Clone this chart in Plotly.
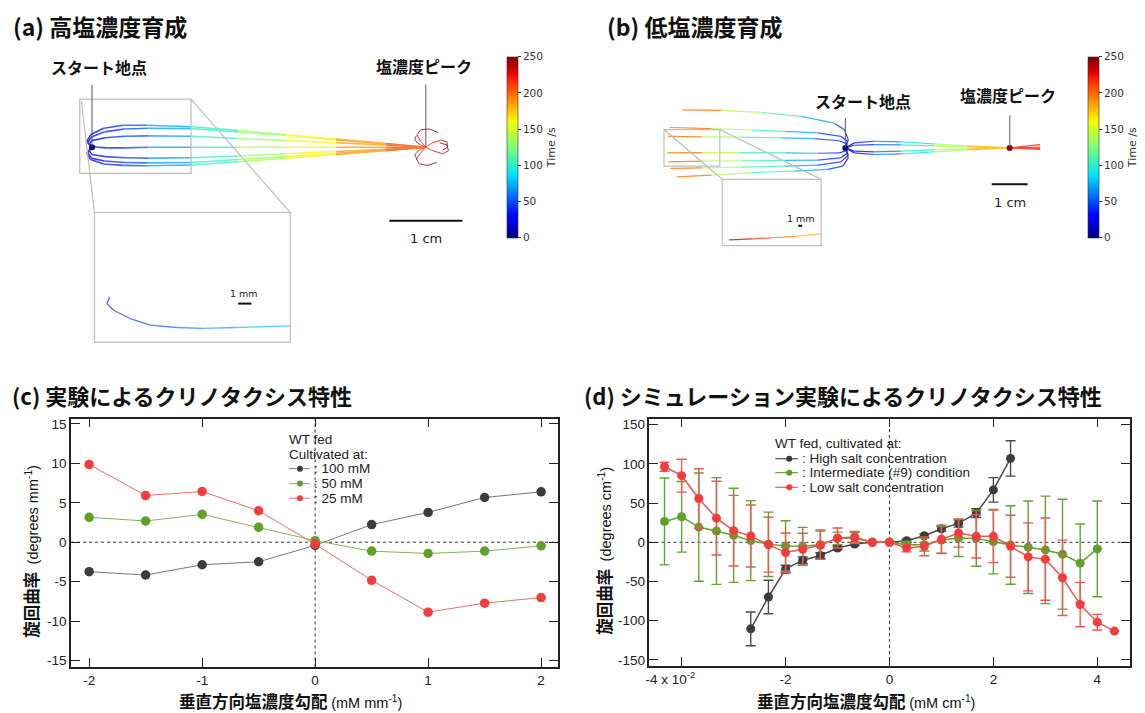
import plotly.graph_objects as go
from plotly.colors import sample_colorscale, unlabel_rgb

W, H = 1145, 713

# ---------------- panel (c): experiment ----------------
grad_c = [-2.0, -1.5, -1.0, -0.5, 0.0, 0.5, 1.0, 1.5, 2.0]
curv_c_100mM = [-3.74, -4.16, -2.86, -2.48, -0.40, 2.23, 3.78, 5.67, 6.39]
curv_c_50mM = [3.15, 2.69, 3.53, 1.89, 0.20, -1.13, -1.43, -1.13, -0.46]
curv_c_25mM = [9.87, 5.92, 6.43, 3.99, -0.25, -4.83, -8.87, -7.73, -7.02]
names_c = [": 100 mM", ": 50 mM", ": 25 mM"]
yticks_c = [-15, -10, -5, 0, 5, 10, 15]
yticktext_c = ["-15", "-10", "-5", "0", "5", "10", "15"]
xticks_c = [-2, -1, 0, 1, 2]
xticktext_c = ["-2", "-1", "0", "1", "2"]

# ---------------- panel (d): simulation (x in units of 10^-2 mM/cm) ----------------
grad_d = [-4.33, -4.0, -3.67, -3.33, -3.0, -2.67, -2.33, -2.0, -1.67, -1.33, -1.0, -0.67, -0.33,
          0.0, 0.33, 0.67, 1.0, 1.33, 1.67, 2.0, 2.33, 2.67, 3.0, 3.33, 3.67, 4.0, 4.33]
curv_d_high = [None, None, None, None, None, -110.3, -69.7, -34.2, -22.8, -16.9, -7.2, -2.1, 0.0,
               0.0, 2.1, 8.4, 17.3, 24.1, 37.2, 66.8, 106.9, None, None, None, None, None, None]
err_d_high = [None, None, None, None, None, 21.5, 21.3, 5.0, 4.0, 3.5, 2.5, 2.0, 0.0,
              0.0, 2.0, 2.0, 3.0, 4.7, 5.5, 15.6, 22.6, None, None, None, None, None, None]
curv_d_mid = [26.6, 32.5, 19.4, 14.4, 8.9, 2.1, -2.5, -4.6, -5.0, -3.0, 5.0, 5.5, 0.0,
              0.0, -3.0, -3.0, 3.0, 5.5, 5.0, 0.8, -3.4, -6.3, -9.7, -15.2, -26.6, -8.4, None]
err_d_mid = [55.4, 45.0, 69.0, 68.0, 60.0, 51.0, 41.0, 32.0, 24.0, 18.6, 8.0, 7.0, 0.0,
             0.0, 4.0, 8.0, 17.0, 23.5, 35.5, 41.0, 50.0, 59.0, 68.5, 70.0, 50.0, 61.0, None]
curv_d_low = [96.3, 84.9, 55.8, 30.8, 14.8, 8.0, -3.0, -13.1, -8.9, -3.8, 5.5, 6.8, 0.0,
              0.0, -7.2, -5.1, 3.8, 11.8, 7.6, 7.6, -5.1, -18.6, -21.5, -45.2, -79.4, -101.8, -113.2]
err_d_low = [5.7, 21.0, 38.0, 47.0, 45.0, 39.5, 35.0, 25.0, 20.5, 18.0, 12.7, 7.0, 0.0,
             0.0, 5.0, 12.0, 18.0, 18.0, 27.6, 33.5, 39.5, 43.3, 52.4, 48.0, 28.3, 10.0, 0.0]
names_d = [": High salt concentration", ": Intermediate (#9) condition", ": Low salt concentration"]
yticks_d = [-150, -100, -50, 0, 50, 100, 150]
yticktext_d = ["-150", "-100", "-50", "0", "50", "100", "150"]
xticks_d = [-4, -2, 0, 2, 4]
xticktext_d = ["-4 x 10<sup>-2</sup>&nbsp;&nbsp;&nbsp;&nbsp;&nbsp;&nbsp;", "-2", "0", "2", "4"]

# ---------------- panel (a): trajectories, high-salt cultivation (cm) ----------------
traj_a_x = [
    [0, -0.07, -0.02, 0.16, 0.43, 0.75, 1.36, 2.0, 2.66, 3.34, 4.02, 4.57],
    [0, -0.06, -0.01, 0.17, 0.44, 0.76, 1.36, 2.0, 2.66, 3.34, 4.02, 4.57],
    [0, -0.04, 0.0, 0.18, 0.45, 0.77, 1.36, 2.0, 2.66, 3.34, 4.02, 4.57],
    [0, 0.03, 0.08, 0.2, 0.45, 0.77, 1.36, 2.0, 2.66, 3.34, 4.02, 4.57],
    [0, -0.04, 0.0, 0.18, 0.45, 0.77, 1.36, 2.0, 2.66, 3.34, 4.02, 4.57],
    [0, -0.06, -0.01, 0.17, 0.44, 0.76, 1.36, 2.0, 2.66, 3.34, 4.02, 4.57],
    [0, -0.07, -0.02, 0.16, 0.43, 0.75, 1.36, 2.0, 2.66, 3.34, 4.02, 4.57],
]
traj_a_y = [
    [0, 0.08, 0.17, 0.26, 0.30, 0.30, 0.28, 0.23, 0.17, 0.11, 0.05, 0],
    [0, 0.06, 0.14, 0.21, 0.25, 0.26, 0.255, 0.21, 0.16, 0.10, 0.045, 0],
    [0, 0.04, 0.09, 0.13, 0.15, 0.155, 0.15, 0.12, 0.09, 0.06, 0.03, 0],
    [0, 0.01, 0.0, -0.01, -0.01, 0.0, 0.0, 0.0, 0.0, 0.0, 0.0, 0],
    [0, -0.05, -0.10, -0.13, -0.145, -0.15, -0.145, -0.12, -0.09, -0.06, -0.03, 0],
    [0, -0.07, -0.15, -0.19, -0.21, -0.215, -0.21, -0.17, -0.13, -0.085, -0.04, 0],
    [0, -0.08, -0.17, -0.23, -0.25, -0.255, -0.245, -0.2, -0.15, -0.1, -0.05, 0],
]
times_a = [5, 15, 25, 35, 45, 55, 85, 120, 150, 175, 200, 215]
curl_a_x = [
    [4.57, 4.50, 4.45, 4.50, 4.62, 4.74],
    [4.57, 4.66, 4.78, 4.86, 4.87, 4.80],
    [4.57, 4.50, 4.44, 4.48, 4.60, 4.72],
    [4.57, 4.67, 4.80, 4.88, 4.86, 4.76],
    [4.57, 4.48, 4.42, 4.44],
    [4.57, 4.48, 4.42, 4.45],
]
curl_a_y = [
    [0, 0.08, 0.17, 0.24, 0.25, 0.20],
    [0, 0.06, 0.10, 0.07, 0.0, -0.04],
    [0, -0.08, -0.16, -0.23, -0.25, -0.21],
    [0, -0.05, -0.09, -0.05, 0.03, 0.06],
    [0, 0.04, 0.10, 0.16],
    [0, -0.04, -0.10, -0.17],
]
times_curl = [215, 225, 235, 242, 248, 250]
inset_a_x = [0.241, 0.205, 0.296, 0.523, 0.796, 1.160, 1.524, 1.979, 2.715]
inset_a_y = [-2.056, -2.146, -2.237, -2.351, -2.442, -2.474, -2.487, -2.474, -2.452]
inset_a_t = [30, 32, 35, 40, 45, 52, 60, 70, 85]

# ---------------- panel (b): trajectories, low-salt cultivation (cm) ----------------
traj_b_left_x = [
    [0, 0.083, -0.028, -0.31, -1.23, -2.34, -3.45, -4.54],
    [0, 0.065, -0.12, -0.77, -1.69, -2.62, -3.73, -4.89],
    [0, 0.046, -0.17, -0.86, -1.79, -2.9, -4.0, -4.94],
    [0, 0.046, -0.17, -0.77, -1.69, -2.9, -4.0, -4.96],
    [0, 0.065, -0.14, -0.77, -1.69, -2.9, -4.0, -4.94],
    [0, 0.083, -0.12, -0.77, -1.69, -2.9, -4.0, -4.87],
    [0, 0.083, -0.074, -0.49, -1.42, -2.62, -3.73, -4.7],
]
traj_b_left_y = [
    [0, 0.23, 0.51, 0.69, 0.88, 0.99, 1.05, 1.06],
    [0, 0.185, 0.32, 0.42, 0.46, 0.50, 0.54, 0.57],
    [0, 0.11, 0.2, 0.26, 0.28, 0.30, 0.31, 0.32],
    [0, -0.074, -0.14, -0.15, -0.14, -0.13, -0.13, -0.14],
    [0, -0.14, -0.28, -0.34, -0.35, -0.36, -0.37, -0.39],
    [0, -0.2, -0.39, -0.48, -0.51, -0.54, -0.56, -0.57],
    [0, -0.28, -0.51, -0.6, -0.65, -0.69, -0.76, -0.81],
]
times_b_left = [5, 20, 35, 55, 90, 120, 160, 235]
traj_b_right_x = [
    [0, 0.25, 0.81, 1.55, 2.47, 3.4, 4.58, 5.43],
    [0, 0.25, 0.81, 1.55, 2.47, 3.4, 4.58, 5.43],
    [0, 0.25, 0.81, 1.55, 2.47, 3.4, 4.58, 5.43],
    [0, 0.25, 0.81, 1.55, 2.47, 3.4, 4.58, 5.43],
]
traj_b_right_y = [
    [0, 0.14, 0.185, 0.167, 0.11, 0.056, 0, 0.09],
    [0, 0.074, 0.09, 0.083, 0.056, 0.028, 0, -0.02],
    [0, -0.09, -0.11, -0.09, -0.056, -0.028, 0, 0.02],
    [0, -0.14, -0.185, -0.167, -0.11, -0.056, 0, -0.04],
]
times_b_right = [5, 25, 45, 75, 115, 160, 200, 240]
inset_b_x = [-3.24, -2.6, -2.0, -1.4, -0.675]
inset_b_y = [-2.57, -2.54, -2.51, -2.47, -2.40]
inset_b_t = [245, 225, 205, 190, 170]
peak_b = [4.58, 0.0]
time_ticks = [0, 50, 100, 150, 200, 250]

# ---------------- helpers ----------------
TMAX = 250
JET = [[0, 'rgb(0,0,128)'], [0.11, 'rgb(0,0,255)'], [0.125, 'rgb(0,0,255)'],
       [0.34, 'rgb(0,219,255)'], [0.35, 'rgb(0,229,246)'], [0.5, 'rgb(123,255,123)'],
       [0.64, 'rgb(239,255,8)'], [0.66, 'rgb(255,236,0)'], [0.89, 'rgb(255,19,0)'],
       [0.91, 'rgb(232,0,0)'], [1, 'rgb(128,0,0)']]


def fx(px):
    return px / W


def fy(py):
    return 1 - py / H


def jet(t, alpha=1.0):
    r, g, b = unlabel_rgb(sample_colorscale(JET, [min(max(t / TMAX, 0), 1)])[0])
    r = r * alpha + 255 * (1 - alpha)
    g = g * alpha + 255 * (1 - alpha)
    b = b * alpha + 255 * (1 - alpha)
    return f'rgb({r:.0f},{g:.0f},{b:.0f})'


fig = go.Figure()


def add_path(xs, ys, ts, xa, ya, width, alpha):
    for i in range(len(xs) - 1):
        fig.add_trace(go.Scatter(
            x=[xs[i], xs[i + 1]], y=[ys[i], ys[i + 1]], mode='lines',
            line=dict(color=jet((ts[i] + ts[i + 1]) / 2, alpha), width=width),
            xaxis=xa, yaxis=ya, hoverinfo='skip', showlegend=False))


# ---- panel (a) ----
for xs, ys in zip(traj_a_x, traj_a_y):
    add_path(xs, ys, times_a, 'x', 'y', 1.6, 0.75)
for xs, ys in zip(curl_a_x, curl_a_y):
    add_path(xs, ys, times_curl, 'x', 'y', 1.0, 0.8)
add_path(inset_a_x, inset_a_y, inset_a_t, 'x', 'y', 1.3, 0.65)

cbar_common = dict(
    xanchor='left', y=fy(55), yanchor='top', len=(236.7 - 55) / H, lenmode='fraction',
    thickness=11, thicknessmode='pixels', tickvals=time_ticks, ticks='outside', ticklen=3,
    tickcolor='#333', tickfont=dict(size=10.5, family='DejaVu Sans', color='#333'),
    outlinewidth=0.6, outlinecolor='#333', xpad=0, ypad=0,
    title=dict(text='Time /s', side='right', font=dict(size=11, family='DejaVu Sans', color='#333')))

fig.add_trace(go.Scatter(
    x=[0], y=[0], mode='markers', xaxis='x', yaxis='y', hoverinfo='skip', showlegend=False,
    marker=dict(size=6, color=[0], cmin=0, cmax=TMAX, colorscale=JET, showscale=True,
                colorbar=dict(x=fx(505), **cbar_common))))

# ---- panel (b) ----
for xs, ys in zip(traj_b_left_x, traj_b_left_y):
    add_path(xs, ys, times_b_left, 'x2', 'y2', 1.2, 0.8)
for xs, ys in zip(traj_b_right_x, traj_b_right_y):
    add_path(xs, ys, times_b_right, 'x2', 'y2', 1.2, 0.8)
add_path(inset_b_x, inset_b_y, inset_b_t, 'x2', 'y2', 1.2, 0.75)

fig.add_trace(go.Scatter(
    x=[0, peak_b[0]], y=[0, peak_b[1]], mode='markers', xaxis='x2', yaxis='y2',
    hoverinfo='skip', showlegend=False,
    marker=dict(size=6, color=[0, TMAX], cmin=0, cmax=TMAX, colorscale=JET, showscale=True,
                colorbar=dict(x=fx(1087.3), **cbar_common))))

# ---- panel (c) ----
c_marker = ['rgb(60,60,60)', 'rgb(95,160,40)', 'rgb(245,60,60)']
c_line = ['rgb(120,120,120)', 'rgb(130,180,90)', 'rgb(230,110,110)']
for ys, nm, mc, lc in zip([curv_c_100mM, curv_c_50mM, curv_c_25mM], names_c, c_marker, c_line):
    fig.add_trace(go.Scatter(x=grad_c, y=ys, mode='lines+markers', name=nm,
                             line=dict(color=lc, width=1), marker=dict(size=9.5, color=mc),
                             xaxis='x3', yaxis='y3', showlegend=False))

# ---- panel (d) ----
d_marker = ['rgb(60,60,60)', 'rgb(95,160,40)', 'rgb(245,60,60)']
d_line = ['rgb(75,75,75)', 'rgb(100,160,55)', 'rgb(238,85,85)']
for ys, es, nm, mc, lc in zip([curv_d_high, curv_d_mid, curv_d_low],
                              [err_d_high, err_d_mid, err_d_low], names_d, d_marker, d_line):
    fig.add_trace(go.Scatter(x=grad_d, y=ys, mode='lines+markers', name=nm,
                             line=dict(color=lc, width=1.5), marker=dict(size=9, color=mc),
                             error_y=dict(type='data', array=es, visible=True, color=lc,
                                          thickness=1.4, width=5),
                             xaxis='x4', yaxis='y4', showlegend=False))

# ---------------- axes ----------------
hidden = dict(visible=False, showgrid=False, zeroline=False, fixedrange=True)
frame = dict(showline=True, mirror='ticks', linecolor='#222', linewidth=1.6, ticks='inside',
             ticklen=9, tickwidth=1.3, tickcolor='#222', showgrid=False, zeroline=False,
             tickfont=dict(size=13.5, family='Liberation Sans, Arial', color='#222'))

fig.update_layout(
    width=W, height=H, margin=dict(l=0, r=0, t=0, b=0),
    paper_bgcolor='white', plot_bgcolor='white', showlegend=False,
    xaxis=dict(domain=[0, fx(500)], range=[-1.2047, 5.6166], **hidden),
    yaxis=dict(domain=[fy(345), fy(40)], range=[-2.7149, 1.4461], **hidden),
    xaxis2=dict(domain=[fx(600), fx(1080)], range=[-6.786, 6.547], **hidden),
    yaxis2=dict(domain=[fy(260), fy(40)], range=[-3.147, 2.964], **hidden),
    xaxis3=dict(domain=[fx(67.3), fx(556)], range=[-2.16, 2.15], tickvals=xticks_c,
                ticktext=xticktext_c, anchor='y3', **frame),
    yaxis3=dict(domain=[fy(668.3), fy(419)], range=[-15.77, 15.67], tickvals=yticks_c,
                ticktext=yticktext_c, anchor='x3', **frame),
    xaxis4=dict(domain=[fx(647.7), fx(1130)], range=[-4.62, 4.63], tickvals=xticks_d,
                ticktext=xticktext_d, anchor='y4', **frame),
    yaxis4=dict(domain=[fy(667.7), fy(419)], range=[-157.6, 157.6], tickvals=yticks_d,
                ticktext=yticktext_d, anchor='x4', **frame),
)

# ---------------- decorations ----------------
shapes = []
GRAY = 'rgb(190,190,190)'
PTR = 'rgb(90,90,90)'


def pline(x0, y0, x1, y1, color, width, dash=None):
    d = dict(type='line', xref='paper', yref='paper', x0=fx(x0), y0=fy(y0), x1=fx(x1), y1=fy(y1),
             line=dict(color=color, width=width))
    if dash:
        d['line']['dash'] = dash
    shapes.append(d)


def prect(x0, y0, x1, y1, color, width):
    shapes.append(dict(type='rect', xref='paper', yref='paper', x0=fx(x0), y0=fy(y0),
                       x1=fx(x1), y1=fy(y1), line=dict(color=color, width=width)))


# (a)
prect(76, 97.7, 187.7, 172.3, GRAY, 1.2)
prect(90.7, 211.7, 287.3, 342, GRAY, 1.2)
pline(77.7, 100, 90.7, 211.7, GRAY, 1.2)
pline(187.7, 97.7, 287.3, 211.7, GRAY, 1.2)
pline(88.3, 83.3, 88.3, 146, PTR, 1)
pline(423.3, 83, 423.3, 146, PTR, 1)
shapes.append(dict(type='line', xref='x', yref='y', x0=4.071, x1=5.071, y0=-1.01, y1=-1.01,
                   line=dict(color='#111', width=2)))
pline(235, 303.3, 248.3, 303.3, '#111', 2)
# (b)
prect(662.3, 128.3, 718.3, 165, GRAY, 1.2)
prect(720.7, 178.3, 820, 245, GRAY, 1.2)
pline(662.3, 128.3, 720.7, 178.3, GRAY, 1.2)
pline(718.3, 128.3, 820, 178.3, GRAY, 1.2)
pline(844.3, 116.7, 844.3, 146.7, PTR, 1)
pline(1009.3, 114, 1009.3, 146.7, PTR, 1)
shapes.append(dict(type='line', xref='x2', yref='y2', x0=4.08, x1=5.08, y0=-1.014, y1=-1.014,
                   line=dict(color='#111', width=2)))
pline(797, 225, 801, 225, '#111', 2)

# zero dotted lines in (c), (d)
for xa, ya in [('x3', 'y3'), ('x4', 'y4')]:
    shapes.append(dict(type='line', xref=xa, yref=f'{ya} domain', x0=0, x1=0, y0=0, y1=1,
                       layer='below', line=dict(color='#333', width=1, dash='dot')))
    shapes.append(dict(type='line', xref=f'{xa} domain', yref=ya, x0=0, x1=1, y0=0, y1=0,
                       layer='below', line=dict(color='#333', width=1, dash='dot')))

annotations = []
CJK = 'Noto Sans CJK JP, sans-serif'
SANS = 'Liberation Sans, Arial, sans-serif'


def ann(px, py, text, size, family=CJK, xanchor='center', angle=0, color='#111'):
    annotations.append(dict(x=fx(px), y=fy(py), xref='paper', yref='paper', text=text,
                            showarrow=False, xanchor=xanchor, yanchor='middle', textangle=angle,
                            font=dict(size=size, family=family, color=color)))


# panel titles
ann(7, 24, '<b>(a) 高塩濃度育成</b>', 23, xanchor='left')
ann(603, 24, '<b>(b) 低塩濃度育成</b>', 23, xanchor='left')
ann(6, 395, '<b>(c) 実験によるクリノタクシス特性</b>', 22, xanchor='left')
ann(580, 395, '<b>(d) シミュレーション実験によるクリノタクシス特性</b>', 22, xanchor='left')

# labels in (a), (b)
ann(95.3, 65, '<b>スタート地点</b>', 16)
ann(421.5, 64, '<b>塩濃度ピーク</b>', 16)
ann(861.7, 100, '<b>スタート地点</b>', 16)
ann(1007.7, 94, '<b>塩濃度ピーク</b>', 16)
ann(423.3, 238.3, '1 cm', 13, family='DejaVu Sans', color='#222')
ann(1009.7, 201.7, '1 cm', 13, family='DejaVu Sans', color='#222')
ann(241, 293.3, '1 mm', 9.5, family='DejaVu Sans', color='#222')
ann(799.3, 218, '1 mm', 9.5, family='DejaVu Sans', color='#222')

# axis titles
unit_span = '<span style="font-family:Liberation Sans;font-size:14.5px">'
ann(27, 552, '<b>旋回曲率</b>  ' + unit_span + '(degrees mm<sup>-1</sup>)</span>', 16.5, angle=-90)
ann(602, 552, '<b>旋回曲率</b>  ' + unit_span + '(degrees cm<sup>-1</sup>)</span>', 16.5, angle=-90)
ann(288, 703, '<b>垂直方向塩濃度勾配</b> ' + unit_span + '(mM mm<sup>-1</sup>)</span>', 16.5)
ann(865, 703, '<b>垂直方向塩濃度勾配</b> ' + unit_span + '(mM cm<sup>-1</sup>)</span>', 16.5)

# legends (manual, compact like the original)
ann(284, 440, 'WT fed', 13.5, family=SANS, xanchor='left', color='#222')
ann(284, 455, 'Cultivated at:', 13.5, family=SANS, xanchor='left', color='#222')
for nm, mc, lc, yc in zip(names_c, c_marker, c_line, [469.3, 484.3, 499]):
    pline(286, yc, 306.7, yc, lc, 1)
    shapes.append(dict(type='circle', xref='paper', yref='paper', x0=fx(294), x1=fx(300),
                       y0=fy(yc + 3), y1=fy(yc - 3), fillcolor=mc, line=dict(width=0)))
    ann(309, yc, nm, 13.5, family=SANS, xanchor='left', color='#222')

ann(771.7, 444.3, 'WT fed, cultivated at:', 13.5, family=SANS, xanchor='left', color='#222')
for nm, mc, lc, yc in zip(names_d, d_marker, d_line, [459.3, 473.3, 488]):
    pline(774, yc, 796.7, yc, lc, 1.2)
    shapes.append(dict(type='circle', xref='paper', yref='paper', x0=fx(785), x1=fx(791),
                       y0=fy(yc + 3), y1=fy(yc - 3), fillcolor=mc, line=dict(width=0)))
    ann(798.3, yc, nm, 13.5, family=SANS, xanchor='left', color='#222')

fig.update_layout(shapes=shapes, annotations=annotations)
fig.write_html("out.html", config={'displayModeBar': False},
               post_script="document.body.style.margin='0';document.body.style.overflow='hidden';")
